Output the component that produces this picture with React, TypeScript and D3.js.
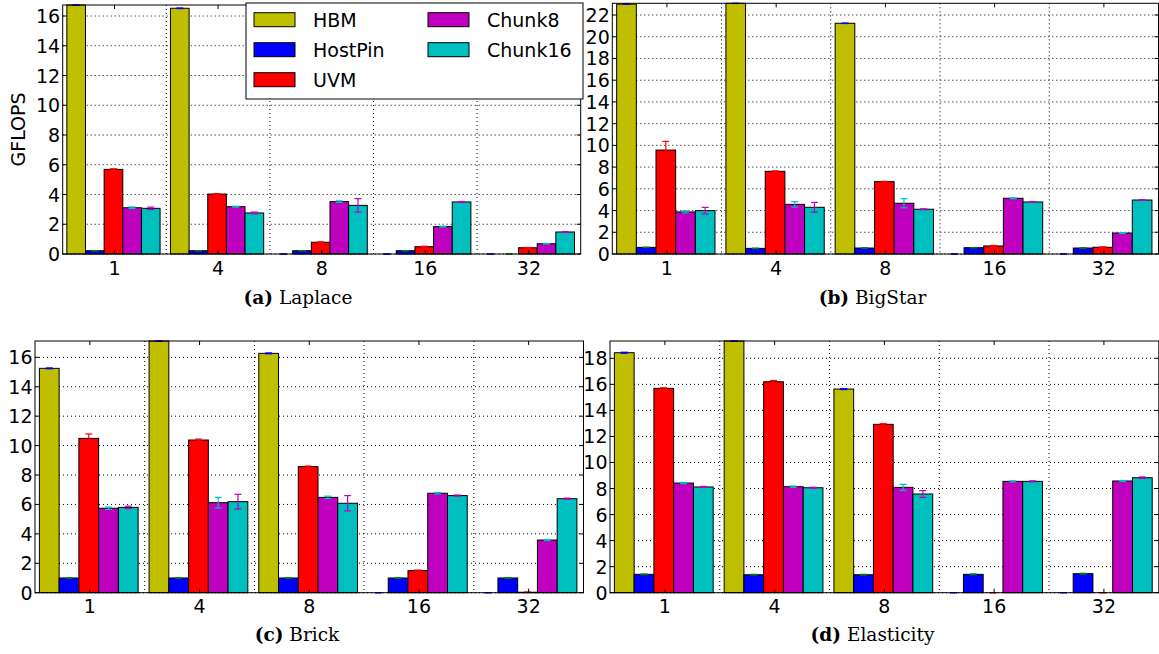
import React from "react";
import * as d3 from "d3";

const categories = ["1", "4", "8", "16", "32"];
const seriesNames = ["HBM", "HostPin", "UVM", "Chunk8", "Chunk16"];
const seriesColors = ["#bfbf00", "#0000ff", "#ff0000", "#bf00bf", "#00bfbf"];
const errorColors = ["#0000ff", "#008000", "#ff0000", "#00bfbf", "#bf00bf"];

// (a) Laplace
const laplaceHBM = [16.74, 16.52, 0, 0, 0];
const laplaceHostPin = [0.22, 0.22, 0.22, 0.22, 0];
const laplaceUVM = [5.69, 4.03, 0.79, 0.49, 0.42];
const laplaceChunk8 = [3.11, 3.18, 3.52, 1.84, 0.69];
const laplaceChunk16 = [3.07, 2.76, 3.27, 3.5, 1.48];
const laplaceErrHBM = [0.02, 0.02, 0, 0, 0];
const laplaceErrHostPin = [0.01, 0.01, 0.01, 0.01, 0];
const laplaceErrUVM = [0.04, 0.03, 0.03, 0.03, 0.02];
const laplaceErrChunk8 = [0.05, 0.03, 0.05, 0.03, 0.02];
const laplaceErrChunk16 = [0.08, 0.06, 0.45, 0.03, 0.03];

// (b) BigStar
const bigstarHBM = [23.0, 23.08, 21.24, 0, 0];
const bigstarHostPin = [0.61, 0.52, 0.55, 0.58, 0.55];
const bigstarUVM = [9.57, 7.61, 6.66, 0.74, 0.62];
const bigstarChunk8 = [3.87, 4.57, 4.67, 5.13, 1.93];
const bigstarChunk16 = [3.99, 4.3, 4.12, 4.79, 4.97];
const bigstarErrHBM = [0.02, 0.02, 0.02, 0, 0];
const bigstarErrHostPin = [0.02, 0.02, 0.02, 0.02, 0.02];
const bigstarErrUVM = [0.8, 0.05, 0.03, 0.05, 0.04];
const bigstarErrChunk8 = [0.1, 0.25, 0.42, 0.04, 0.04];
const bigstarErrChunk16 = [0.3, 0.45, 0.04, 0.04, 0.04];

// (c) Brick
const brickHBM = [15.25, 17.11, 16.27, 0, 0];
const brickHostPin = [1.0, 1.0, 1.0, 1.0, 1.0];
const brickUVM = [10.49, 10.38, 8.57, 1.5, 0.03];
const brickChunk8 = [5.74, 6.12, 6.48, 6.76, 3.58];
const brickChunk16 = [5.8, 6.19, 6.08, 6.6, 6.39];
const brickErrHBM = [0.03, 0.02, 0.03, 0, 0];
const brickErrHostPin = [0.02, 0.02, 0.02, 0.02, 0.02];
const brickErrUVM = [0.3, 0.06, 0.04, 0.04, 0.02];
const brickErrChunk8 = [0.08, 0.36, 0.08, 0.05, 0.04];
const brickErrChunk16 = [0.08, 0.5, 0.52, 0.04, 0.04];

// (d) Elasticity
const elasticityHBM = [18.43, 19.33, 15.64, 0, 0];
const elasticityHostPin = [1.41, 1.38, 1.38, 1.41, 1.46];
const elasticityUVM = [15.69, 16.2, 12.93, 0, 0];
const elasticityChunk8 = [8.42, 8.14, 8.09, 8.55, 8.58];
const elasticityChunk16 = [8.12, 8.06, 7.58, 8.55, 8.83];
const elasticityErrHBM = [0.04, 0.03, 0.04, 0, 0];
const elasticityErrHostPin = [0.03, 0.03, 0.03, 0.03, 0.03];
const elasticityErrUVM = [0.05, 0.1, 0.05, 0, 0];
const elasticityErrChunk8 = [0.05, 0.05, 0.23, 0.04, 0.04];
const elasticityErrChunk16 = [0.04, 0.04, 0.26, 0.04, 0.06];

const FONT = "DejaVu Sans, sans-serif";
const SERIF = "DejaVu Serif, Liberation Serif, serif";

type PanelProps = {
  values: number[][];
  errors: number[][];
  left: number;
  right: number;
  top: number;
  bottom: number;
  ylabel?: string;
  captionX: number;
  captionY: number;
  captionTag: string;
  captionName: string;
};

function Panel(p: PanelProps) {
  const yMax = d3.max(p.values.flat()) as number;
  const y = d3.scaleLinear().domain([0, yMax]).range([p.bottom, p.top]);
  const x = d3.scaleBand().domain(categories).range([p.left, p.right]).padding(0);
  const bw = x.bandwidth();
  const barW = bw * 0.18;
  const barOff = bw * 0.04;
  const yTicks = d3.range(0, yMax + 1e-9, 2);
  const capHalf = 3.5;
  return (
    <g>
      {/* grid */}
      {yTicks.map((t) => (
        <line key={"gy" + t} x1={p.left} x2={p.right} y1={y(t)} y2={y(t)} stroke="#000" strokeWidth={1} strokeDasharray="1,3" />
      ))}
      {categories.slice(1).map((c) => (
        <line key={"gx" + c} x1={x(c)!} x2={x(c)!} y1={p.top} y2={p.bottom} stroke="#000" strokeWidth={1} strokeDasharray="1,3" />
      ))}
      {/* bars */}
      {p.values.map((vals, si) =>
        vals.map((v, ci) => {
          const bx = x(categories[ci])! + barOff + si * barW;
          if (v <= 0) return null;
          return (
            <rect key={"b" + si + "_" + ci} x={bx} y={y(v)} width={barW} height={y(0) - y(v)} fill={seriesColors[si]} stroke="#000" strokeWidth={1} />
          );
        })
      )}
      {/* error bars */}
      {p.values.map((vals, si) =>
        vals.map((v, ci) => {
          const cx = x(categories[ci])! + barOff + si * barW + barW / 2;
          const e = p.errors[si][ci];
          const y1 = y(Math.min(yMax, v + e));
          const y2 = y(Math.max(0, v - e));
          const col = errorColors[si];
          return (
            <g key={"e" + si + "_" + ci}>
              <line x1={cx} x2={cx} y1={y1} y2={y2} stroke={col} strokeWidth={1.2} />
              <line x1={cx - capHalf} x2={cx + capHalf} y1={y1} y2={y1} stroke={col} strokeWidth={1.2} />
              <line x1={cx - capHalf} x2={cx + capHalf} y1={y2} y2={y2} stroke={col} strokeWidth={1.2} />
            </g>
          );
        })
      )}
      {/* frame */}
      <rect x={p.left} y={p.top} width={p.right - p.left} height={p.bottom - p.top} fill="none" stroke="#000" strokeWidth={1} />
      {/* ticks */}
      {yTicks.map((t) => (
        <g key={"ty" + t}>
          <line x1={p.left} x2={p.left + 4} y1={y(t)} y2={y(t)} stroke="#000" />
          <line x1={p.right - 4} x2={p.right} y1={y(t)} y2={y(t)} stroke="#000" />
          <text x={p.left - 2.5} y={y(t)} textAnchor="end" dominantBaseline="central" fontFamily={FONT} fontSize={19}>
            {t}
          </text>
        </g>
      ))}
      {categories.map((c) => {
        const cx = x(c)! + bw / 2;
        return (
          <g key={"tx" + c}>
            <line x1={cx} x2={cx} y1={p.bottom} y2={p.bottom - 4} stroke="#000" />
            <line x1={cx} x2={cx} y1={p.top} y2={p.top + 4} stroke="#000" />
            <text x={cx} y={p.bottom + 20.5} textAnchor="middle" fontFamily={FONT} fontSize={19}>
              {c}
            </text>
          </g>
        );
      })}
      {p.ylabel && (
        <text
          transform={`translate(${18},${(p.top + p.bottom) / 2}) rotate(-90)`}
          textAnchor="middle"
          dominantBaseline="central"
          fontFamily={FONT}
          fontSize={19}
        >
          {p.ylabel}
        </text>
      )}
      <text x={p.captionX} y={p.captionY} textAnchor="middle" fontFamily={SERIF} fontSize={18.5}>
        <tspan fontWeight="bold">{p.captionTag}</tspan>
        <tspan>{" " + p.captionName}</tspan>
      </text>
    </g>
  );
}

function Legend() {
  const lx = 246, ly = 3, lw = 337, lh = 96;
  const colX = [254, 428];
  const rowY = [12.7, 42.7, 72.7];
  return (
    <g>
      <rect x={lx} y={ly} width={lw} height={lh} fill="#fff" stroke="#000" strokeWidth={1} />
      {seriesNames.map((name, i) => {
        const col = i < 3 ? 0 : 1;
        const row = i < 3 ? i : i - 3;
        const sx = colX[col];
        const sy = rowY[row];
        return (
          <g key={name}>
            <rect x={sx} y={sy} width={41} height={14} fill={seriesColors[i]} stroke="#000" strokeWidth={1} />
            <text x={sx + 59} y={sy + 7} dominantBaseline="central" fontFamily={FONT} fontSize={19}>
              {name}
            </text>
          </g>
        );
      })}
    </g>
  );
}

export default function App() {
  return (
    <svg width={1159} height={654} style={{ position: "absolute", left: 0, top: 0, background: "#fff" }}>
      <rect x={0} y={0} width={1159} height={654} fill="#fff" />
      <Panel
        values={[laplaceHBM, laplaceHostPin, laplaceUVM, laplaceChunk8, laplaceChunk16]}
        errors={[laplaceErrHBM, laplaceErrHostPin, laplaceErrUVM, laplaceErrChunk8, laplaceErrChunk16]}
        left={62.7}
        right={580.7}
        top={5}
        bottom={254}
        ylabel="GFLOPS"
        captionX={298}
        captionY={304}
        captionTag="(a)"
        captionName="Laplace"
      />
      <Panel
        values={[bigstarHBM, bigstarHostPin, bigstarUVM, bigstarChunk8, bigstarChunk16]}
        errors={[bigstarErrHBM, bigstarErrHostPin, bigstarErrUVM, bigstarErrChunk8, bigstarErrChunk16]}
        left={612.3}
        right={1158.5}
        top={3.3}
        bottom={254}
        captionX={872.5}
        captionY={304}
        captionTag="(b)"
        captionName="BigStar"
      />
      <Panel
        values={[brickHBM, brickHostPin, brickUVM, brickChunk8, brickChunk16]}
        errors={[brickErrHBM, brickErrHostPin, brickErrUVM, brickErrChunk8, brickErrChunk16]}
        left={35}
        right={583.5}
        top={341}
        bottom={592.7}
        captionX={297}
        captionY={641}
        captionTag="(c)"
        captionName="Brick"
      />
      <Panel
        values={[elasticityHBM, elasticityHostPin, elasticityUVM, elasticityChunk8, elasticityChunk16]}
        errors={[elasticityErrHBM, elasticityErrHostPin, elasticityErrUVM, elasticityErrChunk8, elasticityErrChunk16]}
        left={610}
        right={1158.8}
        top={341}
        bottom={592.7}
        captionX={872.5}
        captionY={641}
        captionTag="(d)"
        captionName="Elasticity"
      />
      <Legend />
    </svg>
  );
}
